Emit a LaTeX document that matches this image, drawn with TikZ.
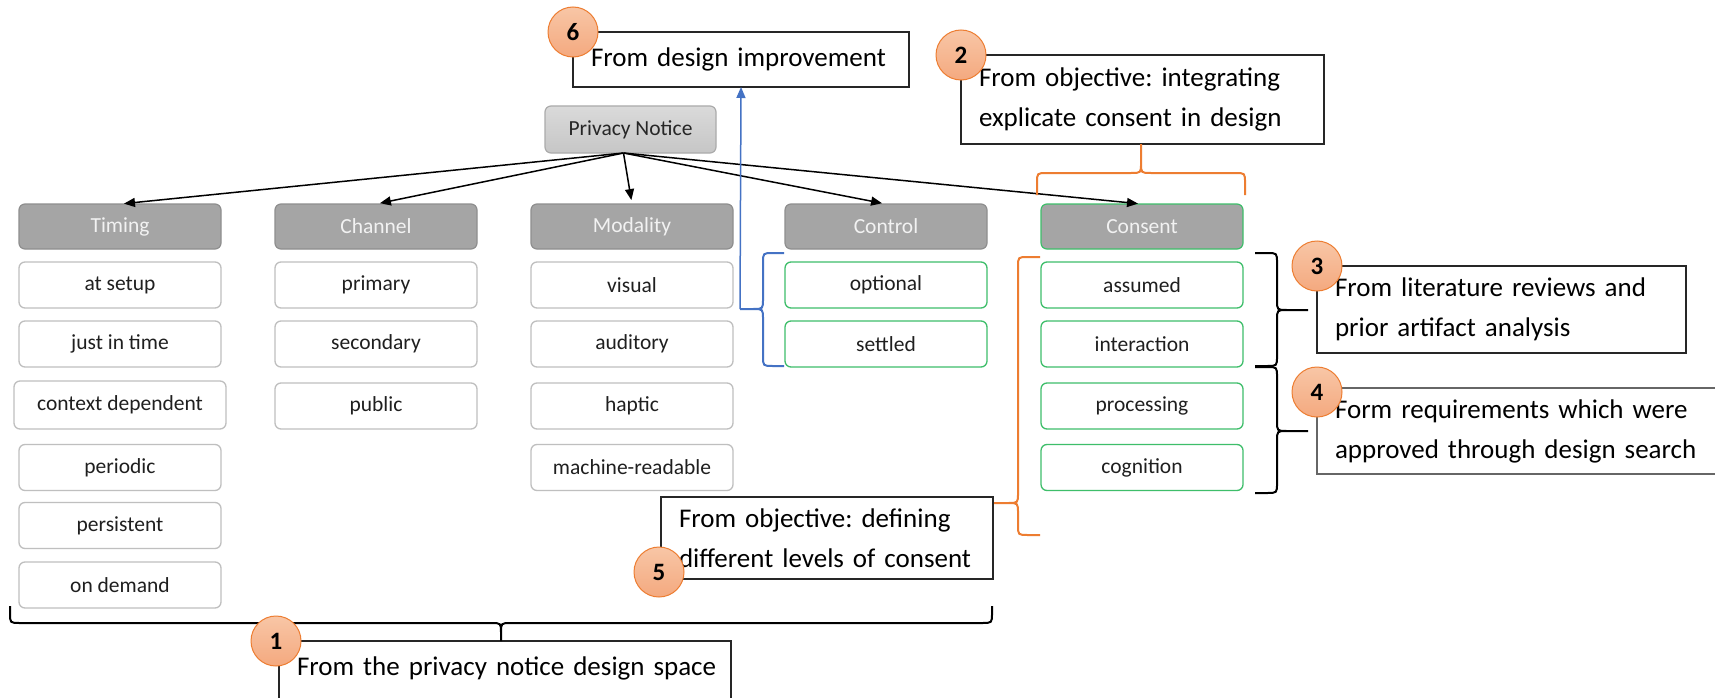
\documentclass[tikz,border=0pt]{standalone}
\usepackage{fontspec}
\setmainfont{Carlito}
\usetikzlibrary{arrows.meta,calc}

\definecolor{hdrgray}{HTML}{A5A5A5}
\definecolor{hdrline}{HTML}{8E8E8E}
\definecolor{itemline}{HTML}{BFBFBF}
\definecolor{okgreen}{HTML}{3EBE6A}
\definecolor{accent}{HTML}{ED7D31}
\definecolor{peachtop}{HTML}{F8C6A6}
\definecolor{peachbot}{HTML}{F4A97F}
\definecolor{linkblue}{HTML}{4472C4}
\definecolor{pntop}{HTML}{DADADA}
\definecolor{pnbot}{HTML}{C6C6C6}
\definecolor{pnline}{HTML}{ABABAB}

% vertical curly brace: style, end x, spine x, tip x, top y, tip y, bottom y
\newcommand\VBrace[7]{%
  \draw[#1] (#2,#5) -- ($(#3,#5)!10pt!(#2,#5)$) .. controls (#3,#5) .. (#3,#5+10)
    -- (#3,#6-10) .. controls (#3,#6) .. ($(#3,#6)!10pt!(#4,#6)$) -- (#4,#6)
    -- ($(#3,#6)!10pt!(#4,#6)$) .. controls (#3,#6) .. (#3,#6+10)
    -- (#3,#7-10) .. controls (#3,#7) .. ($(#3,#7)!10pt!(#2,#7)$) -- (#2,#7);}
% horizontal curly brace: style, end y, spine y, tip y, left x, tip x, right x
\newcommand\HBrace[7]{%
  \draw[#1] (#5,#2) -- ($(#5,#3)!10pt!(#5,#2)$) .. controls (#5,#3) .. (#5+10,#3)
    -- (#6-10,#3) .. controls (#6,#3) .. ($(#6,#3)!10pt!(#6,#4)$) -- (#6,#4)
    -- ($(#6,#3)!10pt!(#6,#4)$) .. controls (#6,#3) .. (#6+10,#3)
    -- (#7-10,#3) .. controls (#7,#3) .. ($(#7,#3)!10pt!(#7,#2)$) -- (#7,#2);}

\begin{document}
\frenchspacing
\begin{tikzpicture}[x=1pt,y=-1pt,
  every node/.style={inner sep=0pt, outer sep=0pt},
  labelfont/.style={font=\fontsize{21.5}{24}\selectfont},
  pnbox/.style={labelfont, draw=pnline, top color=pntop, bottom color=pnbot, rounded corners=6pt,
    line width=1.2pt, minimum width=171pt, minimum height=47pt, text=black!85},
  hdr/.style={labelfont, draw=hdrline, fill=hdrgray, rounded corners=6pt, line width=1.2pt,
    minimum width=202pt, minimum height=45pt, text=white!95!black},
  item/.style={labelfont, draw=itemline, fill=white, rounded corners=6pt, line width=1.3pt,
    minimum width=202pt, minimum height=46pt, text=black!88},
  gitem/.style={item, draw=okgreen},
  callout/.style={draw=black!85, fill=white, line width=1.3pt, anchor=north west, align=left,
    inner xsep=18pt, inner ysep=0pt, font=\fontsize{27}{35}\selectfont},
  twoline/.style={callout, execute at begin node={\vspace*{5pt}}},
  badge/.style={circle, minimum size=50pt, draw=accent, line width=1pt,
    top color=peachtop, bottom color=peachbot, font=\fontsize{25}{25}\selectfont\bfseries},
  link/.style={-{Triangle[length=11pt,width=9pt]}, line width=1.5pt},
  bracepen/.style={line width=2pt},
]
\fill[white] (0,0) rectangle (1715,698);
\useasboundingbox (0,0) rectangle (1715,698);

% root
\node[pnbox] (pn) at (630.5,129.5) {Privacy Notice};

% dimension headers
\node[hdr] (timing)   at (120,226.5)  {Timing};
\node[hdr] (channel)  at (376,226.5)  {Channel};
\node[hdr] (modality) at (632,226.5)  {Modality};
\node[hdr] (control)  at (886,226.5)  {Control};
\node[hdr, draw=okgreen] (consent) at (1142,226.5) {Consent};

% timing options
\node[item] (setup)      at (120,285)   {at setup};
\node[item] (jit)        at (120,344)   {just in time};
\node[item, minimum width=212pt, minimum height=48pt] (ctx) at (120,405) {context dependent};
\node[item] (periodic)   at (120,467.5) {periodic};
\node[item] (persistent) at (120,525.5) {persistent};
\node[item] (ondemand)   at (120,585)   {on demand};

% channel options
\node[item] (primary)   at (376,285) {primary};
\node[item] (secondary) at (376,344) {secondary};
\node[item] (public)    at (376,406) {public};

% modality options
\node[item] (visual)   at (632,285)   {visual};
\node[item] (auditory) at (632,344)   {auditory};
\node[item] (haptic)   at (632,406)   {haptic};
\node[item] (machine)  at (632,467.5) {machine-readable};

% control options
\node[gitem] (optional) at (886,285) {optional};
\node[gitem] (settled)  at (886,344) {settled};

% consent options
\node[gitem] (assumed)     at (1142,285)   {assumed};
\node[gitem] (interaction) at (1142,344)   {interaction};
\node[gitem] (processing)  at (1142,406)   {processing};
\node[gitem] (cognition)   at (1142,467.5) {cognition};

% tree edges
\coordinate (src) at ($(pn.south)+(-7,0)$);
\foreach \t in {timing,channel,modality,control,consent}
  \draw[link, shorten >=4pt] (src) -- (\t.north);

% source callouts
\node[callout, text width=300pt, minimum height=55pt] (c6) at (573,32) {From design improvement};
\node[twoline, text width=327pt, minimum height=89pt] (c2) at (961,55)
  {From objective: integrating\\explicate consent in design};
\node[twoline, text width=333pt, minimum height=87pt, line width=2.5pt] (c3) at (1317,266)
  {From literature reviews and\\prior artifact analysis};
\node[twoline, text width=384pt, minimum height=86pt, draw=black!60] (c4) at (1317,388)
  {Form requirements which were\\approved through design search};
\node[twoline, text width=296pt, minimum height=82pt] (c5) at (661,497)
  {From objective: defining\\different levels of consent};
\node[callout, text width=416pt, text height=34pt, text depth=30pt] (c1) at (279,641)
  {\mbox{From the privacy notice design space}};

% braces grouping options
\VBrace{bracepen,black}{1255}{1277}{1308}{253}{310}{366}
\VBrace{bracepen,black}{1255}{1277}{1308}{367}{431}{493}
\VBrace{bracepen,linkblue}{784}{763}{740}{253}{309}{366}
\VBrace{bracepen,accent}{1040}{1018}{994}{257}{503}{535}
\HBrace{bracepen,accent}{195}{173}{144}{1037}{1141}{1245}
\HBrace{bracepen,black}{606}{623}{641}{10}{501}{992}

% control options lead to the design improvement
\coordinate (ctrltip) at (740,309);
\draw[link, linkblue] (ctrltip) -- (c6.south);

% numbered badges
\node[badge] (b6) at (c6.north west) {6};
\node[badge] (b2) at (c2.north west) {2};
\node[badge] (b3) at (c3.north west) {3};
\node[badge] (b4) at ($(c4.north west)+(0,4)$) {4};
\node[badge] (b5) at ($(c5.south west)+(-2,-7)$) {5};
\node[badge] (b1) at ($(c1.north west)+(-3,0)$) {1};
\end{tikzpicture}
\end{document}
